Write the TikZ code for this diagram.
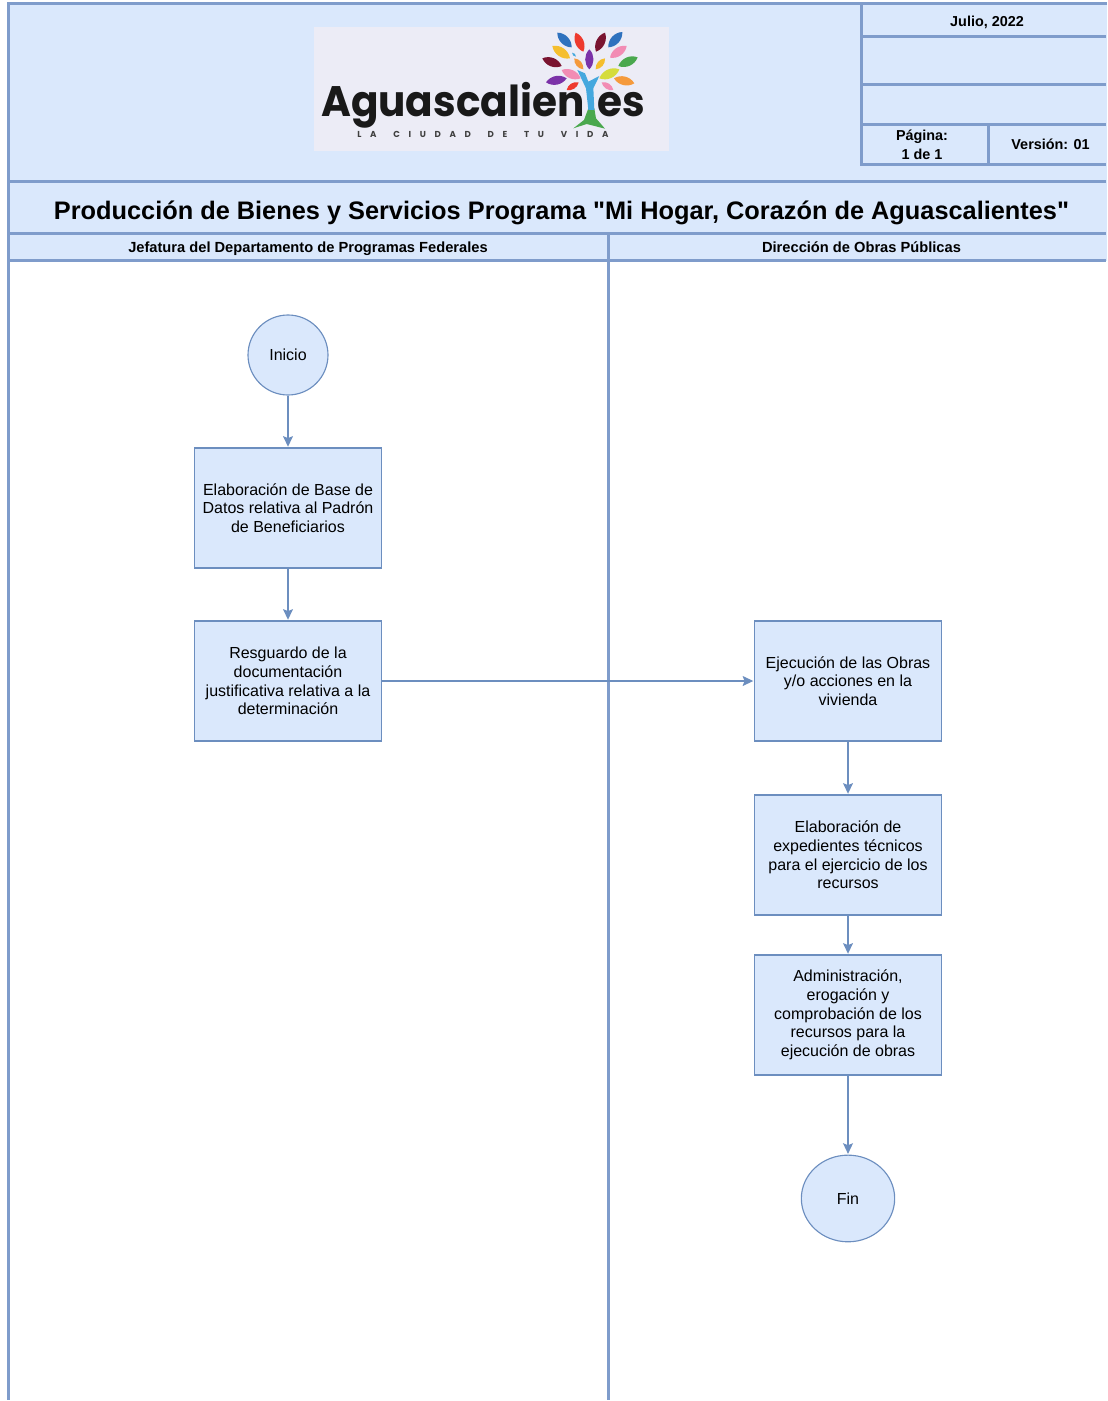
\documentclass[tikz,border=0pt]{standalone}
\usepackage{fontspec}
\setmainfont{Liberation Sans}
\newfontfamily\titlefont{Liberation Sans}
\newfontfamily\logofont[FakeStretch=.95]{Poppins}
\newfontfamily\logotag[LetterSpace=100, WordSpace=1.6]{Poppins}
\usetikzlibrary{arrows.meta, positioning, shapes.geometric}
\definecolor{panelfill}{HTML}{DAE8FC}
\definecolor{panelline}{HTML}{7F9CCB}
\definecolor{boxline}{HTML}{6C8EBF}
\definecolor{logofill}{HTML}{ECECF6}
\definecolor{leafblue}{HTML}{2F72BE}
\definecolor{leafred}{HTML}{EE3A2E}
\definecolor{leafwine}{HTML}{7A1430}
\definecolor{leafyellow}{HTML}{F5BE2E}
\definecolor{leafpink}{HTML}{F28CB4}
\definecolor{leafviolet}{HTML}{7B32A8}
\definecolor{leaforange}{HTML}{F59A3C}
\definecolor{leafgreen}{HTML}{4AA84E}
\definecolor{leaflime}{HTML}{D5DC3C}
\definecolor{trunkblue}{HTML}{45A8DE}
\tikzset{
  process/.style={draw=boxline, fill=panelfill, line width=.85pt, minimum width=140.25pt, minimum height=90pt, inner sep=0pt, align=center, font=\fontsize{12}{14}\selectfont},
  terminal/.style={draw=boxline, fill=panelfill, line width=.85pt, ellipse, inner sep=0pt, font=\fontsize{12}{14}\selectfont},
  headtext/.style={font=\fontsize{10.8}{14}\selectfont\bfseries, align=center},
  lanetext/.style={font=\fontsize{11}{14}\selectfont\bfseries},
  frame/.style={draw=panelline, line width=2.25pt},
}
\begin{document}
\begin{tikzpicture}[x=.75pt, y=-.75pt, shorten >= .5pt, node distance = 100pt, on grid, >={Stealth[length=8pt, width=7.5pt, inset=1.5pt]}]
  \useasboundingbox (0,0) rectangle (1107,1401);
  % header panel
  \fill[panelfill] (8,4) rectangle (1107,261);
  \draw[frame] (1107,4) -- (8,4) -- (8,1401);
  \draw[frame] (8,182) -- (1107,182);
  \draw[frame] (8,234) -- (1107,234);
  \draw[frame] (8,261) -- (1107,261);
  \draw[frame] (608,234) -- (608,1401);
  \draw[frame] (861,4) -- (861,165) -- (1107,165);
  \draw[frame] (861,37) -- (1107,37);
  \draw[frame] (861,85) -- (1107,85);
  \draw[frame] (861,125) -- (1107,125);
  \draw[frame] (988,125) -- (988,165);
  \node[headtext] (fecha) at (987,22) {Julio, 2022};
  \node[headtext] (pagina) at (922,145) {P\'agina:\\1 de 1};
  \node[headtext] (version) at (1050.5,144.5) {Versi\'on: 01};
  \node[font=\fontsize{19}{22}\titlefont\bfseries] (titulo) at (561.5,212.5) {Producci\'on de Bienes y Servicios Programa "Mi Hogar, Coraz\'on de Aguascalientes"};
  \node[lanetext] (lane1) at (308,249) {Jefatura del Departamento de Programas Federales};
  \node[lanetext] (lane2) at (861.5,247.5) {Direcci\'on de Obras P\'ublicas};
  % logo
  \fill[logofill] (314,27) rectangle (669,151);
  \node[anchor=base west, inner sep=0pt, text=black!90, font=\fontsize{32}{36}\logofont\bfseries] (logoa) at (321,117) {Aguascalien};
  \node[anchor=base west, inner sep=0pt, text=black!90, font=\fontsize{32}{36}\logofont\bfseries] (logob) at (597,117) {es};
  \node[anchor=base west, inner sep=0pt, text=black!75, font=\fontsize{6.5}{8}\logotag\bfseries] (lema) at (357,138) {LA CIUDAD DE TU VIDA};
  \begin{scope}[x=.25pt, y=-.25pt, shift={(232.5pt,-15pt)}]
    \fill[leafgreen] (835,265) -- (822,300) -- (790,325) -- (830,312) -- (885,326) -- (858,295) -- (853,265) -- cycle;
    \fill[trunkblue] (802,150) -- (825,160) -- (835,185) -- (868,168) -- (850,205) -- (853,270) -- (835,270) -- (828,205) -- cycle;
    \foreach \xa/\ya/\xb/\yb/\leaf in {742/38/785/82/leafblue, 797/38/820/95/leafred, 885/38/858/95/leafwine, 937/36/895/82/leafblue,
        727/78/780/115/leafyellow, 950/78/900/113/leafpink, 838/88/838/148/leafviolet, 793/115/820/148/leaforange, 885/115/857/148/leafyellow,
        697/115/755/138/leafwine, 983/112/925/138/leafgreen, 755/150/812/175/leafpink, 928/148/868/175/leaflime,
        708/187/770/175/leafviolet, 912/175/973/190/leaforange, 770/210/806/187/leafred, 875/187/910/210/leafpink, 786/98/798/110/trunkblue}
      \fill[\leaf] (\xa,\ya) to[bend left=45] (\xb,\yb) to[bend left=45] (\xa,\ya) -- cycle;
  \end{scope}
  % flow
  \node[terminal, minimum width=60pt, minimum height=60pt] (inicio) at (288,355) {Inicio};
  \node[process] (base) [below=114.75pt of inicio] {Elaboraci\'on de Base de\\Datos relativa al Padr\'on\\de Beneficiarios};
  \node[process] (resguardo) [below=129.75pt of base] {Resguardo de la\\documentaci\'on\\justificativa relativa a la\\determinaci\'on};
  \node[process] (ejecucion) [right=420pt of resguardo] {Ejecuci\'on de las Obras\\y/o acciones en la\\vivienda};
  \node[process] (expedientes) [below=130.5pt of ejecucion] {Elaboraci\'on de\\expedientes t\'ecnicos\\para el ejercicio de los\\recursos};
  \node[process] (administracion) [below=120pt of expedientes] {Administraci\'on,\\erogaci\'on y\\comprobaci\'on de los\\recursos para la\\ejecuci\'on de obras};
  \node[terminal, minimum width=70pt, minimum height=65pt] (fin) [below=137.6pt of administracion] {Fin};
  \path[->, color=boxline, line width=.85pt]
    (inicio) edge (base)
    (base) edge (resguardo)
    (resguardo) edge (ejecucion)
    (ejecucion) edge (expedientes)
    (expedientes) edge (administracion)
    (administracion) edge (fin);
\end{tikzpicture}
\end{document}
